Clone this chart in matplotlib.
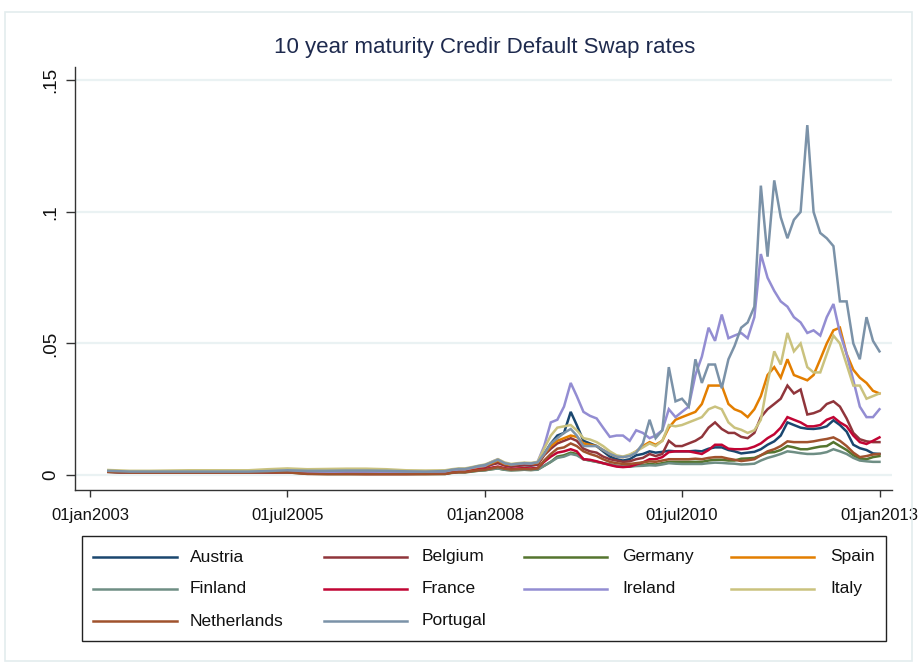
import matplotlib
matplotlib.use("Agg")
import matplotlib.pyplot as plt
import matplotlib.dates as mdates
from matplotlib.lines import Line2D
from matplotlib.patches import Rectangle
import pandas as pd

plt.rcParams['font.family'] = ['Liberation Sans', 'DejaVu Sans']

# Observation dates: quarterly early on, monthly from mid-2007
early_dates = ["2003-03-25", "2003-07-01", "2003-10-01", "2004-01-01", "2004-04-01",
               "2004-07-01", "2004-10-01", "2005-01-01", "2005-04-01", "2005-07-01",
               "2005-10-01", "2006-01-01", "2006-04-01", "2006-07-01", "2006-10-01",
               "2007-01-01", "2007-04-01"]
monthly_dates = pd.date_range("2007-07-01", "2012-12-01", freq="MS").strftime("%Y-%m-%d").tolist()
dates = pd.to_datetime(early_dates + monthly_dates + ["2012-12-31"])

austria = [.0013, .0010, .0010, .0010, .0010, .0010, .0010, .0010, .0011, .0012, .0011, .0010, .0011, .0011, .0010, .0009, .0009,
           .0010, .0015, .0018, .0018, .0023, .0028,
           .0030, .0040, .0048, .0038, .0033, .0036, .0038, .0036, .0040, .0080, .0120, .0150,
           .0160, .0240, .0190, .0130, .0120, .0110, .0090, .0070, .0060, .0055, .0060, .0075,
           .0080, .0090, .0085, .0088, .0092, .0090, .0090, .0090, .0092, .0090, .0100, .0105,
           .0105, .0095, .0090, .0082, .0085, .0088, .0098, .0115, .0128, .0150, .0200, .0190,
           .0180, .0176, .0175, .0178, .0185, .0208, .0190, .0165, .0115, .0102, .0095, .0082,
           .0080]
belgium = [.0013, .0010, .0010, .0010, .0010, .0010, .0010, .0010, .0011, .0012, .0011, .0010, .0011, .0011, .0010, .0009, .0009,
           .0010, .0015, .0018, .0018, .0023, .0028,
           .0030, .0040, .0045, .0036, .0032, .0035, .0037, .0036, .0040, .0075, .0100, .0120,
           .0130, .0140, .0130, .0100, .0090, .0085, .0070, .0060, .0055, .0050, .0052, .0060,
           .0065, .0080, .0072, .0080, .0130, .0110, .0110, .0120, .0130, .0145, .0180, .0200,
           .0175, .0160, .0160, .0145, .0140, .0160, .0220, .0250, .0270, .0290, .0340, .0310,
           .0325, .0230, .0235, .0245, .0270, .0280, .0260, .0215, .0160, .0136, .0128, .0125,
           .0125]
germany = [.0012, .0009, .0009, .0009, .0009, .0009, .0009, .0009, .0010, .0010, .0005, .0004, .0004, .0004, .0004, .0004, .0004,
           .0004, .0008, .0010, .0010, .0013, .0016,
           .0018, .0022, .0025, .0020, .0018, .0019, .0020, .0019, .0021, .0035, .0050, .0070,
           .0075, .0085, .0080, .0060, .0055, .0050, .0045, .0040, .0035, .0032, .0033, .0036,
           .0038, .0042, .0040, .0045, .0050, .0050, .0050, .0050, .0050, .0050, .0055, .0058,
           .0058, .0055, .0055, .0062, .0063, .0065, .0075, .0085, .0087, .0095, .0110, .0105,
           .0098, .0098, .0103, .0108, .0110, .0125, .0110, .0095, .0075, .0062, .0060, .0068,
           .0072]
spain = [.0014, .0011, .0011, .0011, .0011, .0011, .0011, .0011, .0012, .0014, .0012, .0011, .0012, .0012, .0011, .0010, .0010,
         .0011, .0016, .0019, .0019, .0024, .0030,
         .0035, .0045, .0055, .0042, .0038, .0042, .0045, .0043, .0046, .0080, .0110, .0130,
         .0140, .0150, .0145, .0120, .0115, .0110, .0095, .0080, .0070, .0068, .0075, .0090,
         .0110, .0125, .0115, .0130, .0180, .0210, .0220, .0230, .0240, .0270, .0340, .0340,
         .0340, .0270, .0250, .0240, .0220, .0250, .0300, .0380, .0410, .0370, .0440, .0380,
         .0370, .0360, .0380, .0440, .0500, .0550, .0560, .0460, .0400, .0370, .0350, .0320,
         .0310]
finland = [.0012, .0009, .0009, .0009, .0009, .0009, .0009, .0009, .0010, .0010, .0008, .0007, .0007, .0007, .0007, .0006, .0006,
           .0006, .0009, .0011, .0011, .0014, .0017,
           .0018, .0022, .0025, .0020, .0018, .0019, .0020, .0019, .0020, .0035, .0050, .0065,
           .0070, .0080, .0075, .0060, .0055, .0050, .0045, .0040, .0035, .0032, .0032, .0034,
           .0035, .0037, .0036, .0040, .0045, .0043, .0042, .0042, .0042, .0042, .0045, .0047,
           .0046, .0044, .0043, .0040, .0041, .0043, .0055, .0065, .0072, .0080, .0090, .0087,
           .0083, .0080, .0080, .0082, .0087, .0098, .0090, .0080, .0065, .0055, .0052, .0050,
           .0050]
france = [.0012, .0010, .0010, .0010, .0010, .0010, .0010, .0010, .0010, .0011, .0006, .0005, .0005, .0004, .0004, .0004, .0005,
          .0005, .0010, .0012, .0012, .0016, .0020,
          .0022, .0028, .0032, .0026, .0023, .0025, .0026, .0025, .0027, .0050, .0070, .0085,
          .0090, .0098, .0090, .0060, .0058, .0052, .0045, .0038, .0032, .0030, .0032, .0040,
          .0048, .0060, .0060, .0068, .0087, .0090, .0090, .0090, .0085, .0080, .0095, .0115,
          .0115, .0100, .0098, .0098, .0100, .0108, .0120, .0140, .0155, .0180, .0220, .0210,
          .0200, .0185, .0185, .0190, .0210, .0220, .0200, .0185, .0150, .0125, .0118, .0130,
          .0143]
ireland = [.0014, .0011, .0011, .0011, .0011, .0011, .0011, .0011, .0012, .0014, .0013, .0012, .0013, .0013, .0012, .0011, .0011,
           .0012, .0018, .0021, .0021, .0027, .0032,
           .0035, .0050, .0060, .0045, .0040, .0042, .0045, .0043, .0050, .0110, .0200, .0210,
           .0260, .0350, .0300, .0240, .0225, .0215, .0180, .0145, .0150, .0150, .0130, .0170,
           .0160, .0140, .0150, .0170, .0250, .0220, .0240, .0260, .0380, .0450, .0560, .0510,
           .0610, .0520, .0530, .0540, .0520, .0600, .0840, .0750, .0700, .0660, .0640, .0600,
           .0580, .0540, .0550, .0530, .0600, .0650, .0540, .0460, .0360, .0260, .0220, .0220,
           .0250]
italy = [.0019, .0016, .0016, .0017, .0018, .0018, .0018, .0018, .0022, .0025, .0022, .0023, .0024, .0024, .0022, .0018, .0017,
         .0018, .0022, .0025, .0025, .0030, .0035,
         .0040, .0050, .0060, .0048, .0042, .0045, .0047, .0046, .0050, .0100, .0150, .0180,
         .0185, .0190, .0170, .0140, .0135, .0125, .0110, .0090, .0075, .0070, .0078, .0090,
         .0105, .0120, .0110, .0130, .0190, .0185, .0190, .0200, .0210, .0220, .0250, .0260,
         .0250, .0200, .0180, .0172, .0160, .0170, .0210, .0350, .0470, .0420, .0540, .0470,
         .0500, .0410, .0390, .0390, .0460, .0530, .0500, .0420, .0340, .0340, .0290, .0300,
         .0310]
netherlands = [.0012, .0009, .0009, .0009, .0009, .0009, .0009, .0009, .0010, .0010, .0004, .0003, .0003, .0003, .0003, .0003, .0003,
               .0004, .0009, .0011, .0011, .0015, .0018,
               .0020, .0025, .0030, .0024, .0021, .0022, .0023, .0022, .0025, .0055, .0080, .0100,
               .0105, .0120, .0110, .0090, .0080, .0072, .0060, .0050, .0045, .0042, .0042, .0045,
               .0048, .0052, .0050, .0055, .0060, .0060, .0060, .0060, .0062, .0060, .0065, .0068,
               .0068, .0062, .0058, .0053, .0056, .0060, .0075, .0090, .0098, .0110, .0128, .0125,
               .0125, .0125, .0128, .0133, .0137, .0143, .0130, .0110, .0085, .0068, .0072, .0078,
               .0080]
portugal = [.0016, .0013, .0013, .0013, .0013, .0013, .0013, .0013, .0015, .0018, .0016, .0016, .0017, .0017, .0016, .0014, .0013,
            .0015, .0020, .0023, .0023, .0028, .0034,
            .0038, .0048, .0058, .0045, .0040, .0043, .0045, .0044, .0048, .0080, .0120, .0140,
            .0160, .0175, .0150, .0110, .0110, .0110, .0095, .0080, .0070, .0068, .0072, .0085,
            .0120, .0210, .0140, .0170, .0410, .0280, .0290, .0260, .0440, .0350, .0420, .0420,
            .0330, .0440, .0490, .0560, .0580, .0640, .1100, .0830, .1120, .0980, .0900, .0970,
            .1000, .1330, .1000, .0920, .0900, .0870, .0660, .0660, .0500, .0440, .0600, .0510,
            .0470]

countries = ["Austria", "Belgium", "Germany", "Spain", "Finland",
             "France", "Ireland", "Italy", "Netherlands", "Portugal"]
series = [austria, belgium, germany, spain, finland,
          france, ireland, italy, netherlands, portugal]
colors = ["#1a476f", "#90353b", "#55752f", "#e37e00", "#6e8e84",
          "#c10534", "#938dd2", "#cac27e", "#a0522d", "#7b92a8"]

y_ticks = [0, 0.05, 0.1, 0.15]
y_tick_labels = ["0", ".05", ".1", ".15"]
x_ticks = ["2003-01-01", "2005-07-01", "2008-01-01", "2010-07-01", "2013-01-01"]
x_tick_labels = ["01jan2003", "01jul2005", "01jan2008", "01jul2010", "01jan2013"]
title = "10 year maturity Credir Default Swap rates"

W, H = 919, 666
fig = plt.figure(figsize=(W / 100, H / 100), dpi=100)
fig.patch.set_facecolor("white")

# light frame round the graph region
fig.patches.append(Rectangle((5 / W, 1 - 661 / H), 907 / W, 649 / H, transform=fig.transFigure,
                             fill=False, edgecolor="#e3ecee", linewidth=1.2))

ax = fig.add_axes([74.8 / W, 1 - 490 / H, (892 - 74.8) / W, (490 - 67) / H])
ax.set_facecolor("white")

for name, vals, col in zip(countries, series, colors):
    ax.plot(dates, vals, color=col, linewidth=1.8, label=name, solid_joinstyle="miter")

ax.set_ylim(-0.0057, 0.1551)
x0 = mdates.date2num(pd.Timestamp("2003-01-01"))
ax.set_xlim(x0 - 72.2, x0 + 3710)

ax.set_yticks(y_ticks)
ax.set_yticklabels(y_tick_labels, rotation=90, va="center")
ax.set_xticks(pd.to_datetime(x_ticks))
ax.set_xticklabels(x_tick_labels)

ax.grid(axis="y", color="#eaf2f3", linewidth=1.6)
ax.set_axisbelow(True)
for s in ["top", "right"]:
    ax.spines[s].set_visible(False)
for s in ["left", "bottom"]:
    ax.spines[s].set_color("#333333")
    ax.spines[s].set_linewidth(1.0)
ax.tick_params(axis="y", length=6.5, width=1.0, color="#333333", pad=5, labelsize=13.5, labelcolor="#111111")
ax.tick_params(axis="x", length=5, width=1.0, color="#333333", pad=8, labelsize=12, labelcolor="#111111")

fig.text(485 / W, 1 - 47 / H, title, ha="center", va="center", fontsize=16, color="#1e2a4e")

# legend drawn as a boxed grid of line samples and labels
fig.patches.append(Rectangle((82 / W, 1 - 641 / H), (886 - 82) / W, (641 - 536) / H,
                             transform=fig.transFigure, fill=False, edgecolor="#222222", linewidth=1.0))
col_lines = [(93, 177), (324, 407), (524, 607), (731, 814)]
col_text = [190, 422, 622, 830]
row_y = [557, 588.5, 621]
for i, (name, col) in enumerate(zip(countries, colors)):
    r, c = divmod(i, 4)
    yy = 1 - row_y[r] / H
    fig.lines.append(Line2D([col_lines[c][0] / W, col_lines[c][1] / W], [yy, yy],
                            transform=fig.transFigure, color=col, linewidth=1.8))
    fig.text(col_text[c] / W, yy, name, ha="left", va="center", fontsize=12.5, color="#111111")

fig.savefig("out.png", dpi=100)
